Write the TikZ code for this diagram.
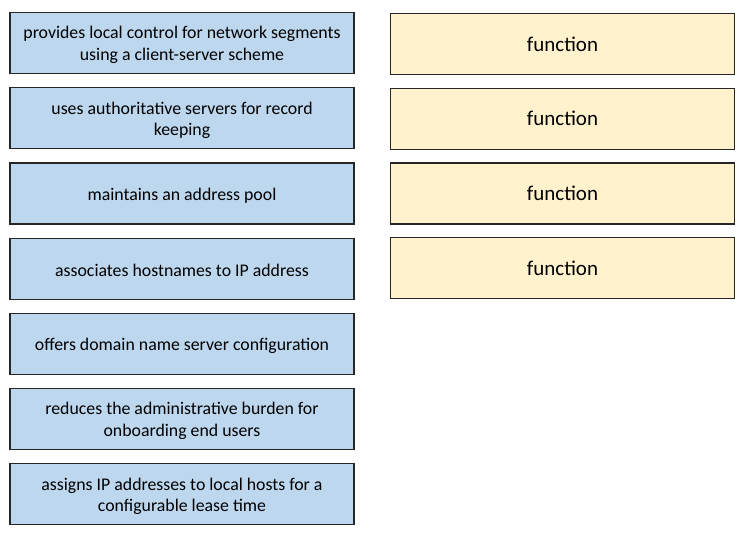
\documentclass[tikz,border=0pt]{standalone}
\usepackage{fontspec}
\setmainfont{Carlito}
\usetikzlibrary{positioning}
\definecolor{boxblue}{RGB}{189,215,238}
\definecolor{boxyellow}{RGB}{255,242,204}
\definecolor{boxedge}{RGB}{38,38,38}

\begin{document}
\begin{tikzpicture}[x=1pt, y=-1pt,
  box/.style={draw=boxedge, line width=1.2pt, minimum width=344pt, minimum height=61pt, inner sep=0pt},
  itemtext/.style={align=center, inner sep=0pt, font=\fontsize{17.8}{21.5}\selectfont},
  item/.style={box, fill=boxblue, label={[itemtext, yshift=-2pt]center:#1}},
  slot/.style={box, fill=boxyellow, font=\fontsize{21}{24}\selectfont}]
\useasboundingbox (0,0) rectangle (750,538);
% Left column: descriptions
\node[item={provides local control for network segments\\using a client-server scheme}] (d1) at (182,43) {};
\node[item={uses authoritative servers for record\\keeping}, below=13pt of d1] (d2) {};
\node[item={maintains an address pool}, below=13pt of d2] (d3) {};
\node[item={associates hostnames to IP address}, below=13pt of d3] (d4) {};
\node[item={offers domain name server configuration}, below=13pt of d4] (d5) {};
\node[item={reduces the administrative burden for\\onboarding end users}, below=13pt of d5] (d6) {};
\node[item={assigns IP addresses to local hosts for a\\configurable lease time}, below=13pt of d6] (d7) {};
% Right column: answer slots
\node[slot] (f1) at (562.5,44) {function};
\node[slot, below=12.5pt of f1] (f2) {function};
\node[slot, below=12.5pt of f2] (f3) {function};
\node[slot, below=12.5pt of f3] (f4) {function};
\end{tikzpicture}
\end{document}
